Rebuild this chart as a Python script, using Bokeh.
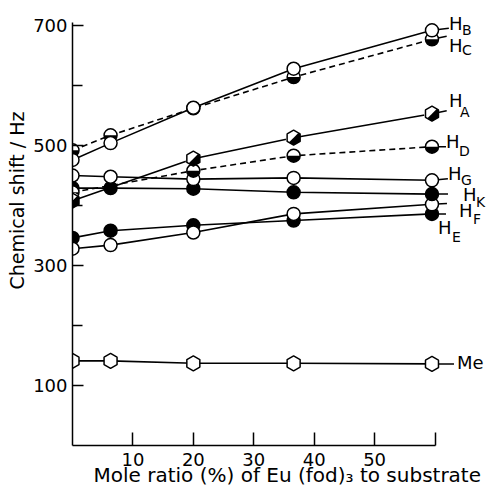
import math
from bokeh.plotting import figure
from bokeh.models import FixedTicker, Range1d, Title
from bokeh.core.properties import value
from bokeh.embed import file_html
from bokeh.resources import INLINE

# ---------------- data ----------------
mole_ratio = [0, 6.3, 20, 36.6, 59.5]          # % Eu(fod)3
mole_ratio_ad = [0, 20, 36.6, 59.5]             # points for H_A and H_D
shift_HB = [476, 504, 563, 628, 692]
shift_HC = [492, 517, 562, 614, 677]
shift_HA = [408, 478, 513, 553]
shift_HD = [422, 458, 483, 498]
shift_HG = [450, 448, 444, 446, 442]
shift_HK = [429, 429, 428, 422, 419]
shift_HF = [328, 334, 355, 386, 402]
shift_HE = [346, 358, 367, 375, 386]
shift_Me = [141, 141, 137, 137, 136]

x_ticks = [10, 20, 30, 40, 50]
x_minor_ticks = [60]
y_ticks = [100, 300, 500, 700]
y_minor_ticks = [200, 400, 600]

proton_subscripts = ["B", "C", "A", "D", "G", "K", "F", "E"]
x_title = "Mole ratio (%) of Eu (fod)\u2083 to substrate"
y_title = "Chemical shift / Hz"

# ---------------- style ----------------
FONT = "DejaVu Sans"
LW = 1.6
CIRCLE = 13
HEX = 15

p = figure(width=489, height=492,
           x_range=Range1d(0, 69.02), y_range=Range1d(0, 741.7),
           output_backend="svg", toolbar_location=None,
           min_border_left=72, min_border_right=0,
           min_border_top=0, min_border_bottom=47)
p.outline_line_color = None
p.grid.visible = False
p.background_fill_color = "white"
p.border_fill_color = "white"

for ax in (p.xaxis[0], p.yaxis[0]):
    ax.axis_line_width = 1.5
    ax.axis_line_color = "black"
    ax.major_tick_line_color = "black"
    ax.minor_tick_line_color = "black"
    ax.major_tick_line_width = 1.5
    ax.minor_tick_line_width = 1.5
    ax.major_tick_out = 0
    ax.minor_tick_out = 0
    ax.major_label_text_font = FONT
    ax.major_label_text_font_size = "18px"
    ax.major_label_text_color = "black"

p.xaxis.ticker = FixedTicker(ticks=x_ticks, minor_ticks=x_minor_ticks)
p.xaxis.bounds = (0, 60)
p.xaxis.major_tick_in = 13
p.xaxis.minor_tick_in = 13
p.xaxis.major_label_standoff = 7

p.yaxis.ticker = FixedTicker(ticks=y_ticks, minor_ticks=y_minor_ticks)
p.yaxis.bounds = (0, 705)
p.yaxis.major_tick_in = 11
p.yaxis.minor_tick_in = 10
p.yaxis.major_label_standoff = 5

# ---------------- lines ----------------
solid = dict(line_color="black", line_width=LW)
dashed = dict(line_color="black", line_width=LW, line_dash="6 4")
p.line(mole_ratio, shift_Me, **solid)
p.line(mole_ratio, shift_HE, **solid)
p.line(mole_ratio, shift_HF, **solid)
p.line(mole_ratio, shift_HK, **solid)
p.line(mole_ratio, shift_HG, **solid)
p.line(mole_ratio_ad, shift_HD, **dashed)
p.line(mole_ratio_ad, shift_HA, **solid)
p.line(mole_ratio, shift_HC, **dashed)
p.line(mole_ratio, shift_HB, **solid)

# ---------------- markers ----------------
def open_circle(x, y):
    p.scatter(x, y, marker="circle", size=CIRCLE, fill_color="white",
              line_color="black", line_width=1.5)

def filled_circle(x, y):
    p.scatter(x, y, marker="circle", size=CIRCLE, fill_color="black",
              line_color="black", line_width=1.5)

def half_circle(x, y):
    p.scatter(x, y, marker="circle", size=CIRCLE, fill_color="white",
              line_color=None)
    p.wedge(x, y, radius=CIRCLE / 2, radius_units="screen",
            start_angle=math.pi, end_angle=2 * math.pi,
            fill_color="black", line_color=None)
    p.scatter(x, y, marker="circle", size=CIRCLE, fill_color=None,
              line_color="black", line_width=1.5)

def half_hex(x, y):
    p.scatter(x, y, marker="hex", size=HEX, angle=math.pi / 2,
              fill_color="black", line_color=None)
    p.wedge(x, y, radius=HEX / 2 + 0.5, radius_units="screen",
            start_angle=math.pi / 4, end_angle=math.pi * 5 / 4,
            fill_color="white", line_color=None)
    p.scatter(x, y, marker="hex", size=HEX, angle=math.pi / 2,
              fill_color=None, line_color="black", line_width=1.5)

def open_hex(x, y):
    p.scatter(x, y, marker="hex", size=HEX, angle=math.pi / 2,
              fill_color="white", line_color="black", line_width=1.5)

open_hex(mole_ratio, shift_Me)
filled_circle(mole_ratio, shift_HE)
open_circle(mole_ratio, shift_HF)
filled_circle(mole_ratio, shift_HK)
open_circle(mole_ratio, shift_HG)
half_circle(mole_ratio_ad, shift_HD)
half_hex(mole_ratio_ad, shift_HA)
half_circle(mole_ratio, shift_HC)
open_circle(mole_ratio, shift_HB)

# ---------------- right-hand labels ----------------
last_vals = [shift_HB[-1], shift_HC[-1], shift_HA[-1], shift_HD[-1],
             shift_HG[-1], shift_HK[-1], shift_HF[-1], shift_HE[-1]]
last_x = [mole_ratio[-1]] * len(last_vals)

conn_len = [17, 15, 15, 14, 16, 16, 15, 14]
conn_ang = [0.12, 0.2, 0.2, 0.0, 0.1, 0.0, 0.05, 0.0]
h_dx = [17, 17, 17, 14, 16, 31, 27, 6]
h_dy = [-7, 6, -13, -5, -7, 0, 6, 14]
s_dx = [30, 30, 28, 27, 29, 44, 41, 20]
s_dy = [0, 11, -2, 4, 0, 8, 15, 23]

p.ray(last_x, last_vals, length=conn_len, length_units="screen",
      angle=conn_ang, line_color="black", line_width=1.5, level="underlay")
p.text(last_x, last_vals, text=["H"] * len(last_vals),
       x_offset=h_dx, y_offset=h_dy, text_font=value(FONT),
       text_font_size="18px", text_align="left", text_baseline="middle",
       text_color="black")
p.text(last_x, last_vals, text=proton_subscripts,
       x_offset=s_dx, y_offset=s_dy, text_font=value(FONT),
       text_font_size="14px", text_align="left", text_baseline="middle",
       text_color="black")

p.ray([mole_ratio[-1]], [shift_Me[-1]], length=22, length_units="screen",
      angle=0, line_color="black", line_width=1.5, level="underlay")
p.text([mole_ratio[-1]], [shift_Me[-1]], text=["Me"], x_offset=25, y_offset=-1,
       text_font=value(FONT), text_font_size="18px", text_align="left",
       text_baseline="middle", text_color="black")

# ---------------- axis titles ----------------
p.add_layout(Title(text=x_title, align="left", offset=21, standoff=-15,
                   text_font=FONT, text_font_size="20px",
                   text_font_style="normal", text_color="black"), "below")
p.add_layout(Title(text=y_title, align="left", offset=156, standoff=5,
                   text_font=FONT, text_font_size="19px",
                   text_font_style="normal", text_color="black"), "left")

open("out.html", "w").write(file_html(p, INLINE))
